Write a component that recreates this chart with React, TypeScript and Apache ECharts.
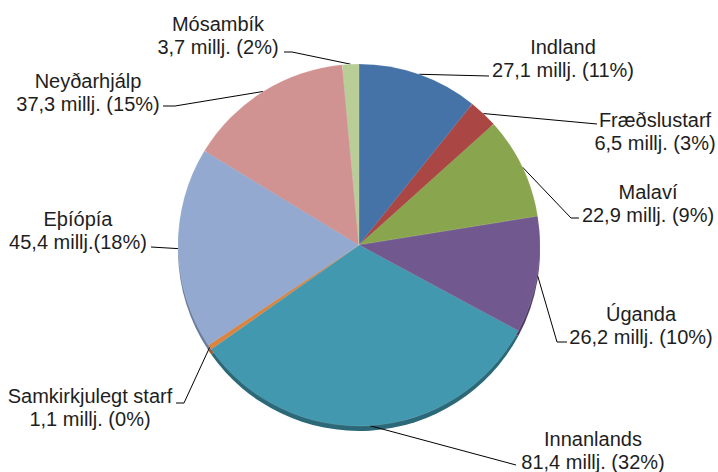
import React, { useEffect, useRef } from "react";
import * as echarts from "echarts";

const categories = [
  "Indland",
  "Fræðslustarf",
  "Malaví",
  "Úganda",
  "Innanlands",
  "Samkirkjulegt starf",
  "Eþíópía",
  "Neyðarhjálp",
  "Mósambík",
];
const values = [27.1, 6.5, 22.9, 26.2, 81.4, 1.1, 45.4, 37.3, 3.7];
const percents = [11, 3, 9, 10, 32, 0, 18, 15, 2];
const separators = [" ", " ", " ", " ", " ", " ", "", " ", " "];

const colors = ["#4572A7", "#AA4643", "#89A54E", "#71588F", "#4198AF", "#DB843D", "#93A9CF", "#D19392", "#B9CD96"];
const rimColors = ["#2d4f7a", "#7a2e2c", "#5f7535", "#4e3c63", "#2b6878", "#9c5c29", "#6a7d9c", "#9a6a69", "#869a6c"];

// layout (pixels)
const CX = 359;
const CY = 245;
const R = 181;
const RIM = 5;
const labelPos: number[][] = [
  [563, 58],
  [655, 131],
  [648, 203],
  [641, 325],
  [593, 450],
  [90, 407],
  [78, 230],
  [88, 92],
  [218, 35],
];
const lineBends: number[][][] = [
  [[489, 76]],
  [[597, 124]],
  [[571, 218], [579, 218]],
  [[557, 342], [567, 342]],
  [[516, 465]],
  [[184, 403], [176, 403]],
  [[151, 247]],
  [[175, 106], [163, 106]],
  [[292, 52], [284, 52]],
];

function fmt(v: number) {
  return v.toFixed(1).replace(".", ",");
}

export default function App() {
  const ref = useRef<HTMLDivElement>(null);
  useEffect(() => {
    if (!ref.current) return;
    const chart = echarts.init(ref.current, undefined, { renderer: "svg" });
    const total = values.reduce((a, b) => a + b, 0);
    const mids: number[] = [];
    let acc = 0;
    values.forEach((v) => {
      mids.push(((acc + v / 2) / total) * Math.PI * 2);
      acc += v;
    });
    const data = categories.map((name, i) => ({
      name,
      value: values[i],
      itemStyle: { color: colors[i] },
    }));
    const rimData = categories.map((name, i) => ({
      name,
      value: values[i],
      itemStyle: { color: rimColors[i] },
    }));
    chart.setOption({
      animation: false,
      backgroundColor: "#ffffff",
      series: [
        {
          type: "pie",
          silent: true,
          z: 1,
          center: [CX, CY + RIM],
          radius: R,
          startAngle: 90,
          label: { show: false },
          labelLine: { show: false },
          data: rimData,
        },
        {
          type: "pie",
          z: 2,
          center: [CX, CY],
          radius: R,
          startAngle: 90,
          avoidLabelOverlap: false,
          itemStyle: { borderColor: "rgba(255,255,255,0.25)", borderWidth: 0.5 },
          label: {
            show: true,
            position: "outside",
            fontSize: 20,
            lineHeight: 23,
            color: "#1e1e1e",
            fontFamily: "'Liberation Sans', Arial, sans-serif",
            formatter: (p: any) =>
              `${categories[p.dataIndex]}\n${fmt(values[p.dataIndex])} millj.${separators[p.dataIndex]}(${percents[p.dataIndex]}%)`,
          },
          labelLine: { show: true, lineStyle: { color: "#000000", width: 1 } },
          labelLayout: (params: any) => {
            const i = params.dataIndex;
            const a = mids[i];
            const edge = [CX + R * Math.sin(a), CY - R * Math.cos(a)];
            return {
              x: labelPos[i][0],
              y: labelPos[i][1],
              align: "center",
              verticalAlign: "middle",
              labelLinePoints: [edge, ...lineBends[i]],
            };
          },
          data,
        },
      ],
    });
    return () => chart.dispose();
  }, []);
  return (
    <div
      ref={ref}
      style={{ position: "absolute", left: 0, top: 0, width: 718, height: 472 }}
    />
  );
}
